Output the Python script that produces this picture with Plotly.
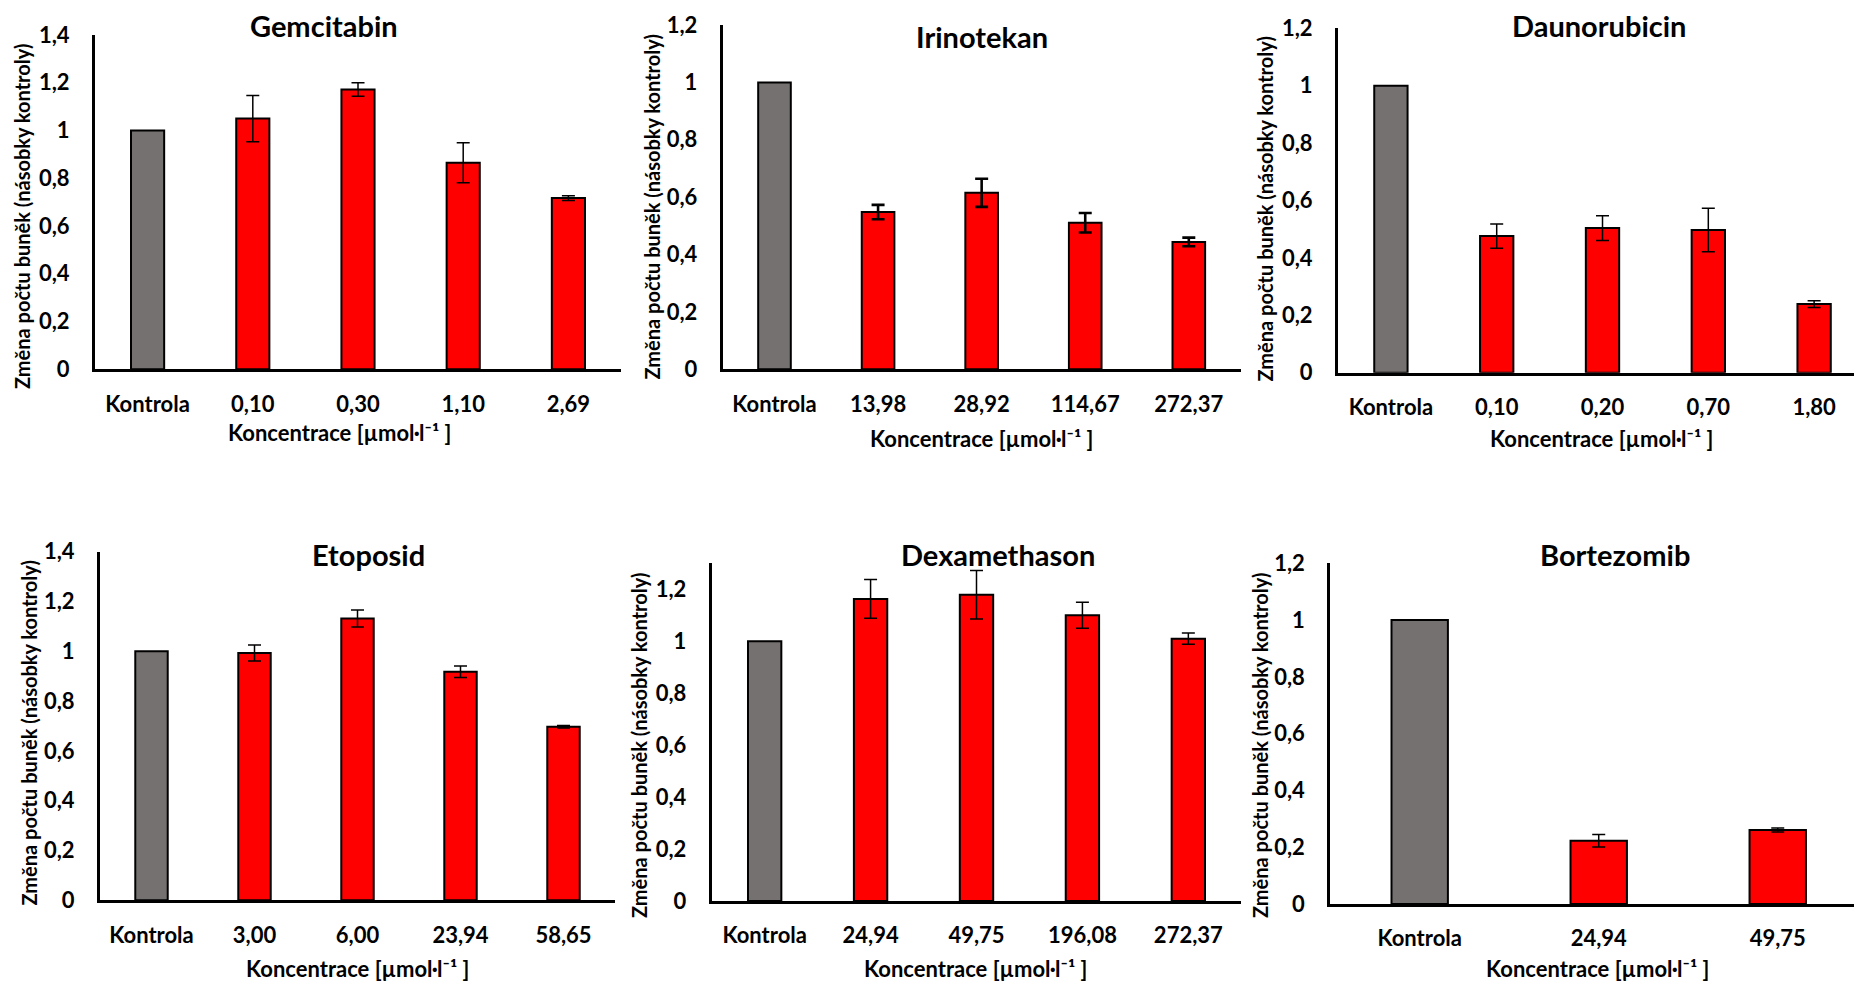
import plotly.graph_objects as go

W, H = 1854, 982

# ---------------- data ----------------
titles = ["Gemcitabin", "Irinotekan", "Daunorubicin", "Etoposid", "Dexamethason", "Bortezomib"]

gem_labels = ["Kontrola", "0,10", "0,30", "1,10", "2,69"]
gem_values = [1.0, 1.05, 1.172, 0.865, 0.717]
gem_errors = [0.097, 0.028, 0.084, 0.010]

iri_labels = ["Kontrola", "13,98", "28,92", "114,67", "272,37"]
iri_values = [1.0, 0.548, 0.615, 0.511, 0.444]
iri_errors = [0.025, 0.049, 0.034, 0.015]

dau_labels = ["Kontrola", "0,10", "0,20", "0,70", "1,80"]
dau_values = [1.0, 0.476, 0.504, 0.497, 0.239]
dau_errors = [0.042, 0.043, 0.076, 0.012]

eto_labels = ["Kontrola", "3,00", "6,00", "23,94", "58,65"]
eto_values = [1.0, 0.993, 1.132, 0.918, 0.697]
eto_errors = [0.032, 0.034, 0.023, 0.005]

dex_labels = ["Kontrola", "24,94", "49,75", "196,08", "272,37"]
dex_values = [1.0, 1.163, 1.179, 1.100, 1.010]
dex_errors = [0.075, 0.093, 0.050, 0.022]

bor_labels = ["Kontrola", "24,94", "49,75"]
bor_values = [1.0, 0.223, 0.261]
bor_errors = [0.022, 0.007]

ytick_vals_14 = [0, 0.2, 0.4, 0.6, 0.8, 1.0, 1.2, 1.4]
ytick_text_14 = ["0", "0,2", "0,4", "0,6", "0,8", "1", "1,2", "1,4"]
ytick_vals_12 = [0, 0.2, 0.4, 0.6, 0.8, 1.0, 1.2]
ytick_text_12 = ["0", "0,2", "0,4", "0,6", "0,8", "1", "1,2"]

y_title = "Změna počtu buněk (násobky kontroly)"
x_title = "Koncentrace [µmol·l⁻¹ ]"

# ---------------- layout (pixel positions) ----------------
panels = [
    dict(labels=gem_labels, values=gem_values, errors=gem_errors, ymax=1.4, tv=ytick_vals_14, tt=ytick_text_14,
         x0=95, x1=621, yb=369.3, yt=35, xr=4.5, tpos=(324, 25), ytpos=(22, 217), xtpos=(340, 433), ew=1.5),
    dict(labels=iri_labels, values=iri_values, errors=iri_errors, ymax=1.2, tv=ytick_vals_12, tt=ytick_text_12,
         x0=722.7, x1=1240.6, yb=369.3, yt=25, xr=4.5, tpos=(982, 37), ytpos=(651.5, 207), xtpos=(982, 438), ew=2.6),
    dict(labels=dau_labels, values=dau_values, errors=dau_errors, ymax=1.2, tv=ytick_vals_12, tt=ytick_text_12,
         x0=1338, x1=1854, yb=372.7, yt=28.3, xr=4.377, tpos=(1599, 26), ytpos=(1264.5, 209), xtpos=(1602, 438), ew=1.5),
    dict(labels=eto_labels, values=eto_values, errors=eto_errors, ymax=1.4, tv=ytick_vals_14, tt=ytick_text_14,
         x0=100, x1=615, yb=900.3, yt=551.7, xr=4.5, tpos=(368.5, 555), ytpos=(28.5, 733), xtpos=(358, 968), ew=1.5),
    dict(labels=dex_labels, values=dex_values, errors=dex_errors, ymax=1.3, tv=ytick_vals_12, tt=ytick_text_12,
         x0=711.7, x1=1241.3, yb=901, yt=563.3, xr=4.5, tpos=(997.6, 555), ytpos=(639, 746), xtpos=(976, 968), ew=1.5),
    dict(labels=bor_labels, values=bor_values, errors=bor_errors, ymax=1.2, tv=ytick_vals_12, tt=ytick_text_12,
         x0=1330.2, x1=1854, yb=904, yt=563.3, xr=2.426, tpos=(1615, 555), ytpos=(1260, 746), xtpos=(1598, 968), ew=1.5),
]

GRAY = "#767171"
RED = "#FF0000"
FONT = "Lato"

fig = go.Figure()
annotations = []

for i, p in enumerate(panels):
    k = "" if i == 0 else str(i + 1)
    xa, ya = "x" + k, "y" + k
    labels, values, errors = p["labels"], p["values"], p["errors"]
    # control bar
    fig.add_trace(go.Bar(
        x=labels[:1], y=values[:1], xaxis=xa, yaxis=ya, width=0.315,
        marker=dict(color=GRAY, line=dict(color="black", width=2)),
        showlegend=False, hoverinfo="skip"))
    # treatment bars
    fig.add_trace(go.Bar(
        x=labels[1:], y=values[1:], xaxis=xa, yaxis=ya, width=0.315,
        marker=dict(color=RED, line=dict(color="black", width=2)),
        error_y=dict(type="data", array=errors, visible=True, color="black",
                     thickness=p["ew"], width=6.5),
        showlegend=False, hoverinfo="skip"))

    xdom = [p["x0"] / W, p["x1"] / W]
    ydom = [(H - p["yb"]) / H, (H - p["yt"]) / H]
    fig.update_layout(**{
        "xaxis" + k: dict(domain=xdom, anchor=ya, type="category", categoryorder="array",
                          categoryarray=labels, range=[-0.5, p["xr"]], automargin=False,
                          showline=True, linecolor="black", linewidth=3,
                          ticks="outside", ticklen=13, tickcolor="rgba(0,0,0,0)",
                          tickfont=dict(family=FONT, size=22, color="black", weight=700),
                          showgrid=False, zeroline=False, fixedrange=True),
        "yaxis" + k: dict(domain=ydom, anchor=xa, range=[0, p["ymax"]], automargin=False,
                          tickvals=p["tv"], ticktext=p["tt"],
                          showline=True, linecolor="black", linewidth=3,
                          ticks="outside", ticklen=18, tickcolor="rgba(0,0,0,0)",
                          tickfont=dict(family=FONT, size=22, color="black", weight=700),
                          showgrid=False, zeroline=False, fixedrange=True),
    })

    annotations.append(dict(text=titles[i], x=p["tpos"][0] / W, y=(H - p["tpos"][1]) / H,
                            xref="paper", yref="paper", xanchor="center", yanchor="middle",
                            showarrow=False, font=dict(family=FONT, size=29, color="black", weight=700)))
    annotations.append(dict(text=y_title, x=p["ytpos"][0] / W, y=(H - p["ytpos"][1]) / H,
                            xref="paper", yref="paper", xanchor="center", yanchor="middle",
                            textangle=-90, showarrow=False,
                            font=dict(family=FONT, size=20, color="black", weight=700)))
    annotations.append(dict(text=x_title, x=p["xtpos"][0] / W, y=(H - p["xtpos"][1]) / H,
                            xref="paper", yref="paper", xanchor="center", yanchor="middle",
                            showarrow=False, font=dict(family=FONT, size=22, color="black", weight=700)))

fig.update_layout(
    width=W, height=H, margin=dict(l=0, r=0, t=0, b=0, autoexpand=False),
    paper_bgcolor="white", plot_bgcolor="white",
    barmode="overlay", annotations=annotations,
    font=dict(family=FONT, color="black"),
)

fig.write_html("out.html", config={"displayModeBar": False},
               post_script="document.body.style.margin='0';document.body.style.overflow='hidden';")
